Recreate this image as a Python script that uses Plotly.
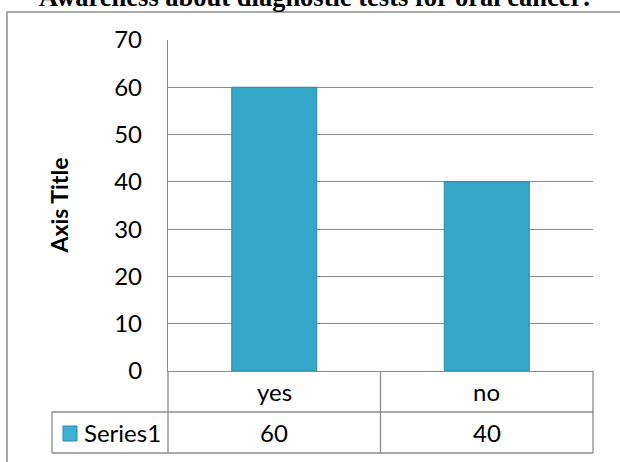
import plotly.graph_objects as go

# ---- data ----
categories = ["yes", "no"]
series_name = "Series1"
values = [60, 40]
y_ticks = [0, 10, 20, 30, 40, 50, 60, 70]
title_text = "Awareness about diagnostic tests for oral cancer:"
y_axis_title = "Axis Title"

# ---- layout geometry (pixels) ----
W, H = 620, 462
L, R, T, B = 168, 27, 40, 91
PW, PH = W - L - R, H - T - B

def px(x):
    return (x - L) / PW

def py(y):
    return (H - B - y) / PH

GRID = "#8C8C8C"
BAR = "#35A7C9"
BAR_LINE = "#2A8BA8"
FONT = "Lato"
FS = 24

fig = go.Figure()
fig.add_trace(go.Bar(
    x=categories, y=values, name=series_name, width=0.4,
    marker=dict(color=BAR, line=dict(color=BAR_LINE, width=1)),
    showlegend=False,
))

shapes = []
line = dict(color=GRID, width=1.3)
# outer chart border
shapes.append(dict(type="rect", xref="paper", yref="paper",
                   x0=px(7), x1=px(640), y0=py(12), y1=py(480),
                   line=dict(color=GRID, width=1.5), fillcolor="rgba(0,0,0,0)", layer="below"))
# data table lines
y_row1 = py(412)
y_row2 = py(453)
shapes.append(dict(type="line", xref="paper", yref="paper", x0=px(52), x1=1, y0=y_row1, y1=y_row1, line=line))
shapes.append(dict(type="line", xref="paper", yref="paper", x0=px(52), x1=1, y0=y_row2, y1=y_row2, line=line))
shapes.append(dict(type="line", xref="paper", yref="paper", x0=px(52), x1=px(52), y0=y_row1, y1=y_row2, line=line))
shapes.append(dict(type="line", xref="paper", yref="paper", x0=0, x1=0, y0=0, y1=y_row2, line=line))
shapes.append(dict(type="line", xref="paper", yref="paper", x0=1, x1=1, y0=0, y1=y_row2, line=line))
for i in range(len(categories) - 1):
    shapes.append(dict(type="line", xref="x", yref="paper", x0=i + 0.5, x1=i + 0.5, y0=0, y1=y_row2, line=line))
# legend key
shapes.append(dict(type="rect", xref="paper", yref="paper",
                   x0=px(63), x1=px(77), y0=py(426), y1=py(441),
                   line=dict(color=BAR_LINE, width=1), fillcolor="#3DB2D6"))

annotations = []
row1_c = py(391.5)
row2_c = py(432.5)
for c, v in zip(categories, values):
    annotations.append(dict(x=c, y=row1_c, xref="x", yref="paper", text=c, showarrow=False,
                            font=dict(family=FONT, size=FS, color="black"), xanchor="center", yanchor="middle"))
    annotations.append(dict(x=c, y=row2_c, xref="x", yref="paper", text=str(v), showarrow=False,
                            font=dict(family=FONT, size=FS, color="black"), xanchor="center", yanchor="middle"))
annotations.append(dict(x=px(82), y=row2_c, xref="paper", yref="paper", text=series_name, showarrow=False,
                        font=dict(family=FONT, size=FS, color="black"), xanchor="left", yanchor="middle"))
annotations.append(dict(x=px(58), y=0.5, xref="paper", yref="paper", text="<b>" + y_axis_title + "</b>",
                        textangle=-90, showarrow=False,
                        font=dict(family=FONT, size=FS - 1, color="black"), xanchor="center", yanchor="middle"))
annotations.append(dict(x=px(315), y=py(14), xref="paper", yref="paper", text="<b>" + title_text + "</b>",
                        showarrow=False, font=dict(family="Liberation Serif", size=26.5, color="black"),
                        xanchor="center", yanchor="bottom"))

fig.update_layout(
    width=W, height=H,
    margin=dict(l=L, r=R, t=T, b=B, pad=0),
    paper_bgcolor="white", plot_bgcolor="white",
    shapes=shapes, annotations=annotations,
    bargap=0.6,
    xaxis=dict(showticklabels=False, showgrid=False, showline=True, linecolor=GRID, linewidth=1.3,
               ticks="", zeroline=False, range=[-0.5, len(categories) - 0.5]),
    yaxis=dict(range=[0, 70], tickvals=y_ticks, showgrid=True, gridcolor=GRID, gridwidth=1.3,
               showline=True, linecolor=GRID, linewidth=1.3, ticks="", zeroline=False,
               tickfont=dict(family=FONT, size=FS, color="black"), ticklabelstandoff=20),
)

fig.write_html("out.html", config={"displayModeBar": False},
               post_script="document.body.style.margin='0';document.body.style.padding='0';")
